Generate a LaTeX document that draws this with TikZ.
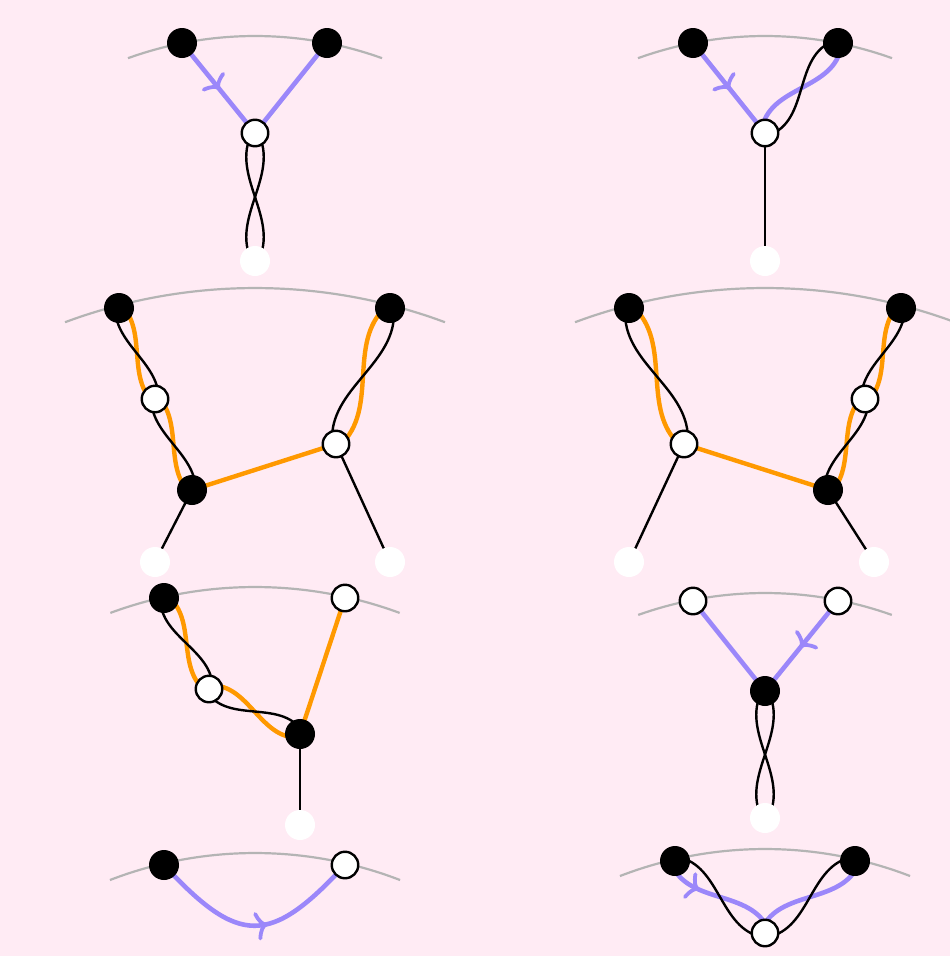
\documentclass[tikz,border=0pt]{standalone}
\usetikzlibrary{calc,decorations.markings}
\definecolor{bgpink}{RGB}{255,235,244}
\definecolor{lav}{RGB}{155,135,250}
\definecolor{orng}{RGB}{255,153,0}
\definecolor{arcgray}{RGB}{180,180,180}
\pgfdeclarelayer{bg}
\pgfsetlayers{bg,main}
% strand from P to Q: #3 end offset, #4 bulge, #5 side (90/-90), #6 style
\newcommand\strand[6]{\draw[#6] ($(#1)!#3!#5:(#2)$) .. controls ($(#1)!0.33!(#2)!#4!#5:(#2)$) and ($(#2)!0.33!(#1)!#4!#5:(#1)$) .. ($(#2)!#3!#5:(#1)$);}
\tikzset{
  bnode/.style={circle, fill=black, inner sep=0pt, minimum size=30pt},
  wnode/.style={circle, fill=white, draw=black, line width=2.4pt, inner sep=0pt, minimum size=26.5pt},
  gnode/.style={circle, fill=white, inner sep=0pt, minimum size=30pt},
  pline/.style={line width=4.6pt, draw=lav},
  oline/.style={line width=4.4pt, draw=orng},
  kline/.style={line width=2.4pt, draw=black},
  garc/.style={line width=2.2pt, draw=arcgray},
  midarrow/.style={postaction={decorate}, decoration={markings, mark=at position #1 with {\draw[lav, line width=3.8pt, line cap=round] (-8,12.5) .. controls (-6,5) and (-3,1) .. (0,0) .. controls (-3,-1) and (-6,-5) .. (-8,-12.5);}}}
}
\begin{document}
\begin{tikzpicture}[x=1pt,y=1pt]
\useasboundingbox (0,0) rectangle (950,-956);
% ---------- nodes ----------
% panel 1
\node[bnode] (p1a) at (182,-43) {};
\node[bnode] (p1b) at (327,-43) {};
\node[wnode] (p1c) at (255,-133) {};
\node[gnode] (p1d) at (255,-261) {};
% panel 2
\node[bnode] (p2a) at (693,-43) {};
\node[bnode] (p2b) at (838,-43) {};
\node[wnode] (p2c) at (765,-133) {};
\node[gnode] (p2d) at (765,-261) {};
% panel 3
\node[bnode] (p3a) at (119,-308) {};
\node[bnode] (p3b) at (390,-308) {};
\node[wnode] (p3e) at (155,-399) {};
\node[bnode] (p3f) at (192,-490) {};
\node[wnode] (p3g) at (336,-444) {};
\node[gnode] (p3h) at (155,-562) {};
\node[gnode] (p3i) at (390,-562) {};
% panel 4
\node[bnode] (p4a) at (629,-308) {};
\node[bnode] (p4b) at (901,-308) {};
\node[wnode] (p4e) at (865,-399) {};
\node[bnode] (p4f) at (828,-490) {};
\node[wnode] (p4g) at (684,-444) {};
\node[gnode] (p4h) at (629,-562) {};
\node[gnode] (p4i) at (874,-562) {};
% panel 5
\node[bnode] (p5a) at (164,-598) {};
\node[wnode] (p5b) at (345,-598) {};
\node[wnode] (p5e) at (209,-689) {};
\node[bnode] (p5f) at (300,-734) {};
\node[gnode] (p5h) at (300,-825) {};
% panel 6
\node[wnode] (p6a) at (693,-601) {};
\node[wnode] (p6b) at (838,-601) {};
\node[bnode] (p6f) at (765,-691) {};
\node[gnode] (p6h) at (765,-818) {};
% panel 7
\node[bnode] (p7a) at (164,-865) {};
\node[wnode] (p7b) at (345,-865) {};
% panel 8
\node[bnode] (p8a) at (675,-861) {};
\node[bnode] (p8b) at (855,-861) {};
\node[wnode] (p8c) at (765,-933) {};
% ---------- background layer ----------
\begin{pgfonlayer}{bg}
\fill[bgpink] (0,0) rectangle (950,-956);
% arcs
\draw[garc] (255,-411) ++(109.8:375) arc[start angle=109.8, end angle=70.2, radius=375];
\draw[garc] (765,-411) ++(109.8:375) arc[start angle=109.8, end angle=70.2, radius=375];
\draw[garc] (255,-833) ++(110.4:545) arc[start angle=110.4, end angle=69.6, radius=545];
\draw[garc] (765,-833) ++(110.4:545) arc[start angle=110.4, end angle=70, radius=545];
\draw[garc] (255,-1004) ++(110.3:417) arc[start angle=110.3, end angle=69.7, radius=417];
\draw[garc] (765,-971) ++(109.6:378) arc[start angle=109.6, end angle=70.4, radius=378];
\draw[garc] (255,-1256) ++(111.1:403) arc[start angle=111.1, end angle=68.9, radius=403];
\draw[garc] (765,-1252) ++(111.1:403) arc[start angle=111.1, end angle=68.9, radius=403];
% panel 1
\draw[pline, midarrow=0.5] (p1a.center) -- (p1c.center);
\draw[pline] (p1b.center) -- (p1c.center);
\strand{p1c}{p1d}{3pt}{25pt}{90}{kline}
\strand{p1c}{p1d}{3pt}{25pt}{-90}{kline}
% panel 2
\draw[pline, midarrow=0.5] (p2a.center) -- (p2c.center);
\strand{p2b}{p2c}{4pt}{28pt}{90}{pline}
\strand{p2b}{p2c}{4pt}{28pt}{-90}{kline}
\draw[kline] (p2c.center) -- (p2d.center);
% panel 3
\draw[oline] (p3f.center) -- (p3g.center);
\strand{p3a}{p3e}{4pt}{16pt}{90}{oline}
\strand{p3e}{p3f}{4pt}{16pt}{90}{oline}
\strand{p3b}{p3g}{4pt}{28pt}{-90}{oline}
\strand{p3a}{p3e}{4pt}{16pt}{-90}{kline}
\strand{p3e}{p3f}{4pt}{16pt}{-90}{kline}
\strand{p3b}{p3g}{4pt}{28pt}{90}{kline}
\draw[kline] (p3f.center) -- (p3h.center);
\draw[kline] (p3g.center) -- (p3i.center);
% panel 4
\draw[oline] (p4f.center) -- (p4g.center);
\strand{p4b}{p4e}{4pt}{16pt}{-90}{oline}
\strand{p4e}{p4f}{4pt}{16pt}{-90}{oline}
\strand{p4a}{p4g}{4pt}{28pt}{90}{oline}
\strand{p4b}{p4e}{4pt}{16pt}{90}{kline}
\strand{p4e}{p4f}{4pt}{16pt}{90}{kline}
\strand{p4a}{p4g}{4pt}{28pt}{-90}{kline}
\draw[kline] (p4g.center) -- (p4h.center);
\draw[kline] (p4f.center) -- (p4i.center);
% panel 5
\draw[oline] (p5b.center) -- (p5f.center);
\strand{p5a}{p5e}{4pt}{20pt}{90}{oline}
\strand{p5e}{p5f}{4pt}{22pt}{90}{oline}
\strand{p5a}{p5e}{4pt}{20pt}{-90}{kline}
\strand{p5e}{p5f}{4pt}{22pt}{-90}{kline}
\draw[kline] (p5f.center) -- (p5h.center);
% panel 6
\draw[pline] (p6a.center) -- (p6f.center);
\draw[pline, midarrow=0.5] (p6b.center) -- (p6f.center);
\strand{p6f}{p6h}{3pt}{25pt}{90}{kline}
\strand{p6f}{p6h}{3pt}{25pt}{-90}{kline}
% panel 7
\draw[pline, midarrow=0.55] (p7a.center) .. controls (239,-946) and (270,-946) .. (p7b.center);
% panel 8
\strand{p8a}{p8c}{5pt}{25pt}{-90}{pline, midarrow=0.3}
\strand{p8b}{p8c}{5pt}{25pt}{90}{pline}
\strand{p8a}{p8c}{5pt}{25pt}{90}{kline}
\strand{p8b}{p8c}{5pt}{25pt}{-90}{kline}
\end{pgfonlayer}
\end{tikzpicture}
\end{document}
